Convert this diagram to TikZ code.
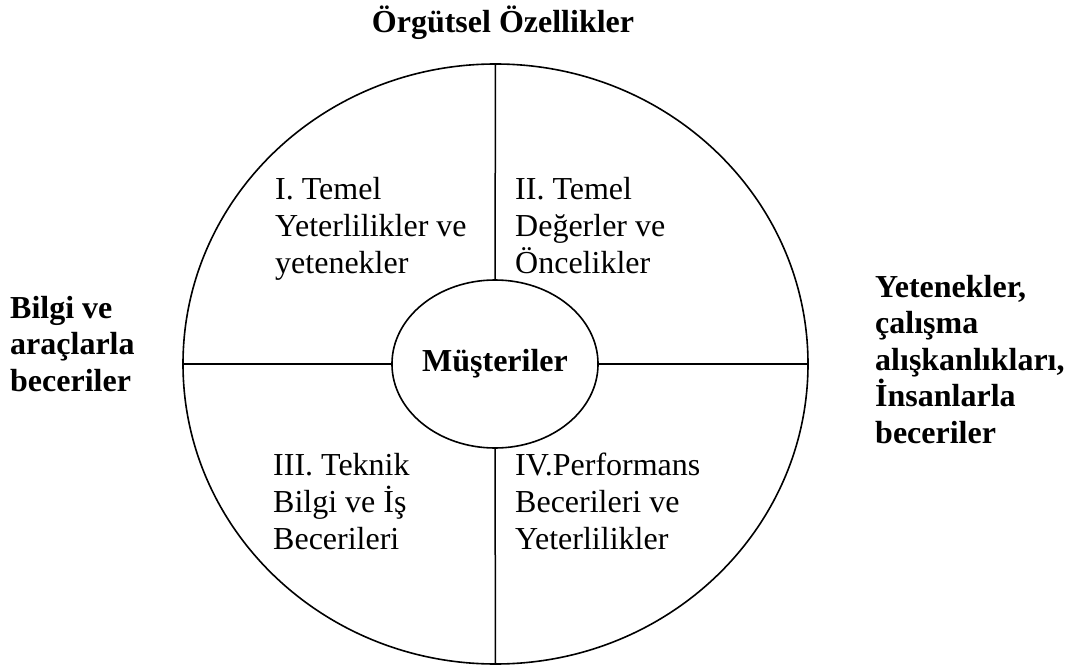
\documentclass[tikz,border=0pt]{standalone}
\usepackage{fontspec}
\setmainfont{Liberation Serif}
\usetikzlibrary{shapes.geometric}
\begin{document}
\begin{tikzpicture}[x=1pt,y=-1pt,
  ring/.style={draw, line width=1.6pt, ellipse, inner sep=0pt},
  divider/.style={line width=1.5pt},
  quad/.style={anchor=base west, align=left, inner sep=0pt, font=\fontsize{32}{37}\selectfont},
  side/.style={anchor=base west, align=left, inner sep=0pt, font=\fontsize{32}{36.5}\selectfont\bfseries},
]
\useasboundingbox (0,0) rectangle (1077,666);

% outer wheel and central hub
\node[ring, minimum width=625pt, minimum height=600pt] (outer) at (495.5,364) {};
\node[ring, minimum width=194pt, minimum height=168pt,
      font=\fontsize{32}{36}\selectfont\bfseries] (core) at (495,364) {Müşteriler};

% spokes dividing the wheel into four quadrants
\draw[divider] (outer.north) -- (core.north);
\draw[divider] (core.south) -- (outer.south);
\draw[divider] (outer.west) -- (core.west);
\draw[divider] (core.east) -- (outer.east);

% quadrant texts (placed by the baseline of their last line)
\node[quad] (q1) at (275,273) {I. Temel\\Yeterlilikler ve\\yetenekler};
\node[quad] (q2) at (515,273) {II. Temel\\Değerler ve\\Öncelikler};
\node[quad] (q3) at (273,549) {III. Teknik\\Bilgi ve İş\\Becerileri};
\node[quad] (q4) at (515,549) {IV.Performans\\Becerileri ve\\Yeterlilikler};

% outer headings
\node[side, anchor=base] (title) at (503,33) {Örgütsel Özellikler};
\node[side] (left) at (10,391) {Bilgi ve\\araçlarla\\beceriler};
\node[side] (right) at (875,443) {Yetenekler,\\çalışma\\alışkanlıkları,\\İnsanlarla\\beceriler};
\end{tikzpicture}
\end{document}
